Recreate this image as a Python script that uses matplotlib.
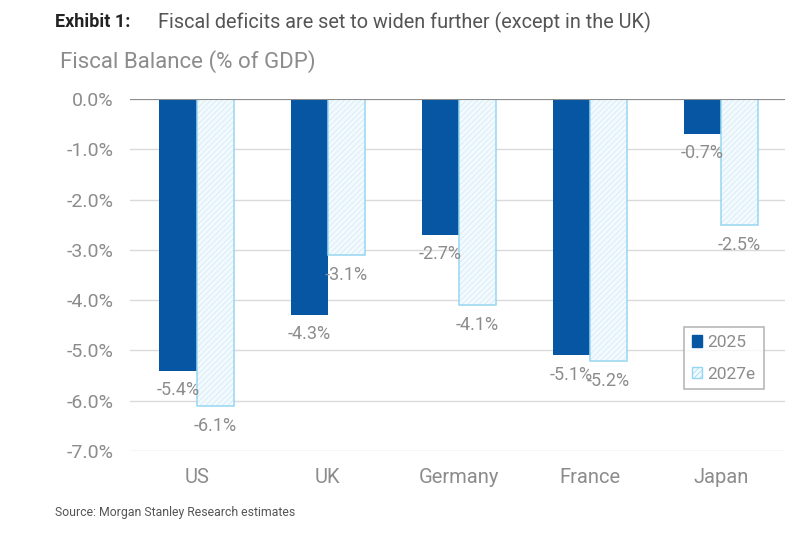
import numpy as np
import matplotlib.pyplot as plt
from matplotlib.patches import Patch

plt.rcParams['font.family'] = ['Roboto', 'DejaVu Sans']
plt.rcParams['hatch.linewidth'] = 0.5

countries = ["US", "UK", "Germany", "France", "Japan"]
bal_2025 = [-5.4, -4.3, -2.7, -5.1, -0.7]
bal_2027 = [-6.1, -3.1, -4.1, -5.2, -2.5]
yticks = [0, -1, -2, -3, -4, -5, -6, -7]

dark = '#0656a3'
light_edge = '#97d6f2'
hatch_col = '#cfe9f6'
light_fill = '#f3fafd'
grey = '#8c8c8c'

fig = plt.figure(figsize=(8, 5.34), dpi=100)
ax = fig.add_axes([0.1625, 0.1554, 0.819, 0.659])

x = np.arange(len(countries))
w = 0.285
ax.bar(x - w/2, bal_2025, w, color=dark, zorder=3)
# hatched fill, then the outline on top
ax.bar(x + w/2, bal_2027, w, facecolor=light_fill, edgecolor=hatch_col,
       hatch='//////', linewidth=0, zorder=3)
ax.bar(x + w/2, bal_2027, w, fill=False, edgecolor=light_edge, linewidth=1.1, zorder=3)

for xi, v in zip(x - w/2, bal_2025):
    ax.text(xi, v - 0.2, f"{v:.1f}%", ha='center', va='top', fontsize=13, color=grey, zorder=4)
for xi, v in zip(x + w/2, bal_2027):
    ax.text(xi, v - 0.22, f"{v:.1f}%", ha='center', va='top', fontsize=13, color=grey, zorder=4)

ax.set_xlim(-0.51, 4.49)
ax.set_ylim(-7, 0)
ax.set_yticks(yticks)
ax.set_yticklabels([f"{t:.1f}%" for t in yticks])
ax.yaxis.grid(True, color='#dadada', linewidth=1)
ax.axhline(0, color='#8c8c8c', linewidth=1.5, zorder=4)
ax.set_xticks(x)
ax.set_xticklabels(countries)
ax.tick_params(axis='both', length=0, colors=grey, labelsize=14)
ax.tick_params(axis='x', pad=12, labelsize=14.5)
ax.tick_params(axis='y', pad=12)
for s in ax.spines.values():
    s.set_visible(False)

handles = [Patch(facecolor=dark, edgecolor=dark),
           Patch(facecolor=light_fill, edgecolor=light_edge, hatch='//////')]
leg = ax.legend(handles, ['2025', '2027e'], loc='lower right', bbox_to_anchor=(0.967, 0.175),
                fontsize=12.5, frameon=True, fancybox=False, edgecolor='#a6a6a6', labelcolor=grey,
                handlelength=0.6, handleheight=0.6, handletextpad=0.3, labelspacing=0.95,
                borderpad=0.45, borderaxespad=0)
leg.get_frame().set_linewidth(1.2)

fig.text(0.069, 0.958, "Exhibit 1:", fontsize=13, fontweight='bold', color='#222222', va='center')
fig.text(0.197, 0.958, "Fiscal deficits are set to widen further (except in the UK)",
         fontsize=14.3, color='#555555', va='center')
fig.text(0.075, 0.884, "Fiscal Balance (% of GDP)", fontsize=16, color=grey, va='center')
fig.text(0.069, 0.041, "Source: Morgan Stanley Research estimates", fontsize=8.8, color='#555555', va='center')

fig.savefig('out.png', dpi=100)
